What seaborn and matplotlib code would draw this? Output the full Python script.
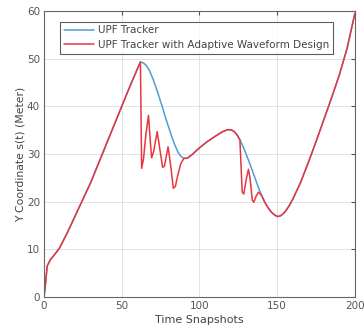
import matplotlib
matplotlib.use("Agg")
import matplotlib.pyplot as plt
import seaborn as sns
import pandas as pd

# ---- data ----
t_upf = [0, 1, 2, 4, 7, 10, 15, 20, 25, 30, 35, 40, 45, 50, 55, 58, 60, 62, 64, 66, 68, 70,
         72, 74, 76, 78, 80, 82, 84, 86, 88, 90, 92, 95, 100, 105, 110, 115, 118, 120, 122,
         124, 126, 128, 130, 132, 134, 136, 138, 140, 142, 144, 146, 148, 150, 152, 154, 156,
         158, 160, 165, 170, 175, 180, 185, 190, 195, 200]
y_upf = [0, 3, 6.5, 7.8, 9, 10.3, 13.5, 17, 20.5, 24, 28, 32, 36, 40, 44, 46.3, 47.8, 49.3,
         49.1, 48.5, 47.4, 45.8, 44, 42, 40, 37.8, 35.8, 33.8, 32, 30.5, 29.5, 29.1, 29.1,
         29.8, 31.3, 32.6, 33.7, 34.7, 35.1, 35.1, 34.8, 34.1, 33, 31.6, 30, 28.3, 26.5, 24.7,
         22.9, 21.3, 19.9, 18.8, 17.9, 17.3, 16.9, 17, 17.5, 18.3, 19.3, 20.5, 24, 28.2, 32.6,
         37.2, 41.8, 46.6, 52.2, 59.5]

t_awd = [0, 1, 2, 4, 7, 10, 15, 20, 25, 30, 35, 40, 45, 50, 55, 58, 60, 62, 62.8, 64, 65.5,
         67.2, 68.3, 69.2, 70.5, 72.8, 74.5, 76.3, 77.5, 79.8, 81.3, 83.2, 84.5, 86, 88, 90,
         92, 95, 100, 105, 110, 115, 118, 120, 122, 124, 126, 127.5, 128.5, 130, 131.5, 132.5,
         134, 135, 136.5, 138, 140, 142, 144, 146, 148, 150, 152, 154, 156, 158, 160, 165,
         170, 175, 180, 185, 190, 195, 200]
y_awd = [0, 3, 6.5, 7.8, 9, 10.3, 13.5, 17, 20.5, 24, 28, 32, 36, 40, 44, 46.3, 47.8, 49.3,
         27.0, 29, 34, 38.1, 33, 29.2, 30.5, 34.7, 31, 27.2, 27.5, 31.5, 28, 22.8, 23.2, 25.5,
         28, 29.1, 29.1, 29.8, 31.3, 32.6, 33.7, 34.7, 35.1, 35.1, 34.8, 34.1, 33, 22, 21.6,
         24.5, 26.8, 25, 20.3, 19.9, 21.2, 22, 21.3, 19.9, 18.8, 17.9, 17.3, 16.9, 17, 17.5,
         18.3, 19.3, 20.5, 24, 28.2, 32.6, 37.2, 41.8, 46.6, 52.2, 59.5]

labels = ["UPF Tracker", "UPF Tracker with Adaptive Waveform Design"]
x_ticks = [0, 50, 100, 150, 200]
y_ticks = [0, 10, 20, 30, 40, 50, 60]

df = pd.concat([
    pd.DataFrame({"t": t_upf, "y": y_upf, "s": labels[0]}),
    pd.DataFrame({"t": t_awd, "y": y_awd, "s": labels[1]}),
], ignore_index=True)

sns.set_style("white")
plt.rcParams['font.family'] = ['DejaVu Sans']

fig = plt.figure(figsize=(3.64, 3.33), dpi=100)
ax = fig.add_axes([0.121, 0.108, 0.854, 0.859])

sns.lineplot(data=df, x="t", y="y", hue="s", palette=["#4f9fd2", "#e8363f"],
             linewidth=1.1, ax=ax, sort=False, estimator=None)

ax.set_xlim(0, 200)
ax.set_ylim(0, 60)
ax.set_xticks(x_ticks)
ax.set_yticks(y_ticks)
ax.grid(True, color="#e2e2e2", linewidth=0.7)
ax.tick_params(direction="in", length=3, labelsize=7.5, colors="#555555",
               top=True, right=True, pad=3)
for sp in ax.spines.values():
    sp.set_color("#666666")
    sp.set_linewidth(0.8)
ax.set_xlabel("Time Snapshots", fontsize=8, color="#444444", labelpad=3)
ax.set_ylabel("Y Coordinate s(t) (Meter)", fontsize=7.8, color="#444444", labelpad=1)

leg = ax.legend(loc="upper left", bbox_to_anchor=(0.045, 0.97), fontsize=7.5,
                frameon=True, fancybox=False, edgecolor="#333333", borderpad=0.35,
                handlelength=2.9, labelspacing=0.45, borderaxespad=0.2, handletextpad=0.4)
leg.get_frame().set_linewidth(0.8)
for txt in leg.get_texts():
    txt.set_color("#444444")

fig.savefig("out.png", dpi=100)
